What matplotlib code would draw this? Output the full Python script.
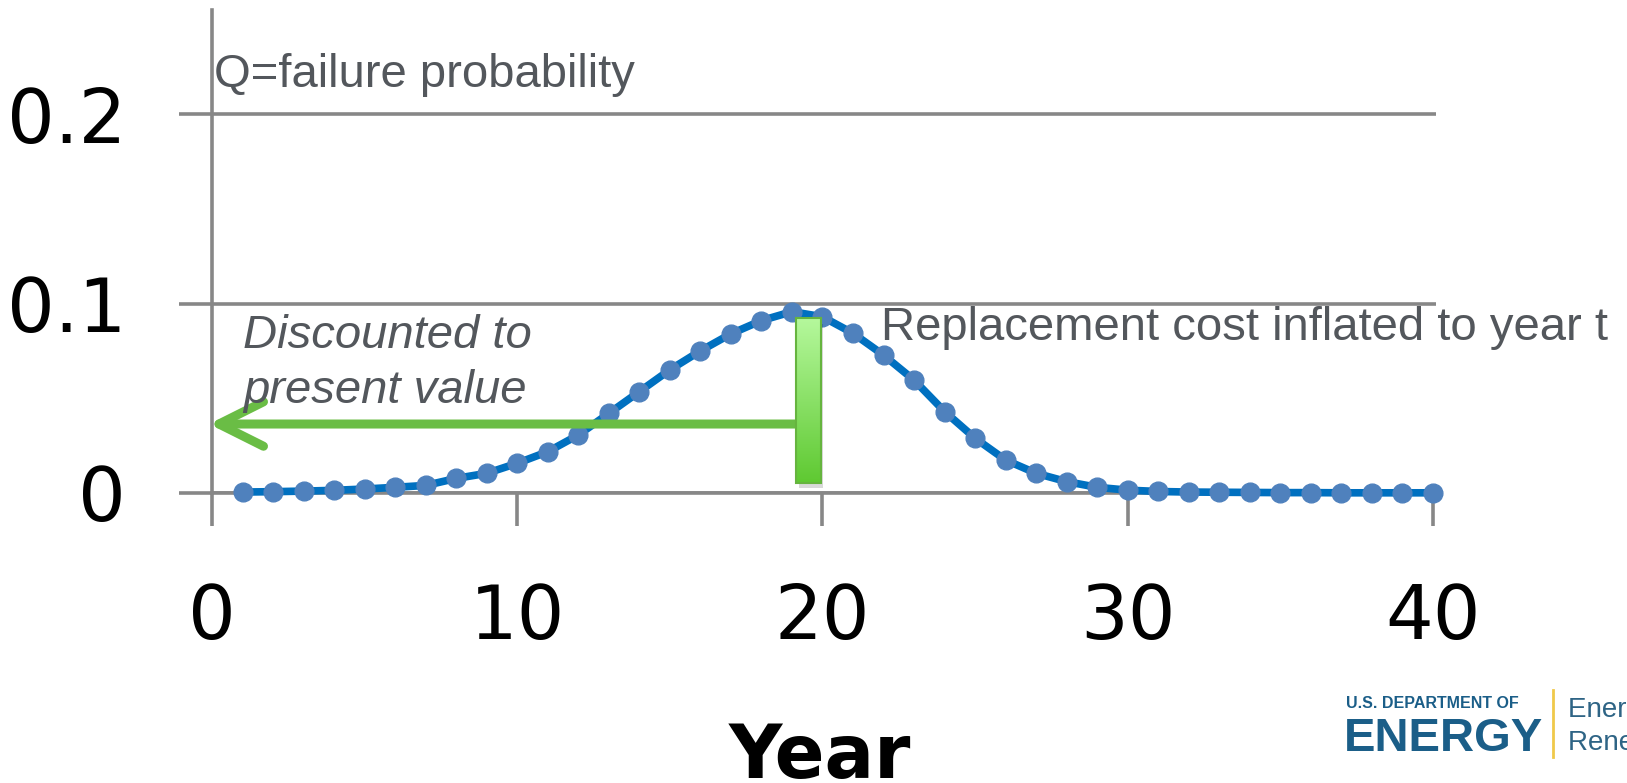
import numpy as np
import matplotlib
matplotlib.use('Agg')
import matplotlib.pyplot as plt
from matplotlib.colors import LinearSegmentedColormap
from matplotlib.lines import Line2D
import matplotlib.transforms as mtransforms

# probabilidade de falha por ano
anos = list(range(1, 41))
prob_falha = [0.0005, 0.0007, 0.001, 0.0014, 0.0021, 0.003, 0.004, 0.0077, 0.0104, 0.0157,
              0.0218, 0.0306, 0.042, 0.0535, 0.065, 0.075, 0.084, 0.091, 0.0957, 0.093,
              0.0843, 0.0728, 0.0596, 0.043, 0.0289, 0.0174, 0.0104, 0.006, 0.003, 0.0015,
              0.0008, 0.0005, 0.0004, 0.0003, 0.0002, 0.0002, 0.0001, 0.0001, 0.0001, 0.0001]

x_ticks = [0, 10, 20, 30, 40]
y_ticks = [0, 0.1, 0.2]
y_labels = ['0', '0.1', '0.2']

# barra verde (custo de reposicao no ano t) e seta de desconto
barra_x0, barra_x1 = 19.13, 19.94
barra_base, barra_topo = 0.0055, 0.0922
seta_y = 0.0364

cinza = '#878787'
texto_cor = '#53575c'
verde = '#6abd45'

fig = plt.figure(figsize=(16.27, 7.83), dpi=100)
ax = fig.add_axes([212 / 1627, 1 - 493 / 783, 1224 / 1627, 483 / 783])

ax.plot(anos, prob_falha, color='#0070c0', lw=5.5, marker='o', ms=13.5,
        mfc='#4f81bd', mec='#4f81bd', zorder=3, clip_on=False)

# sombra da barra
sombra = ax.transData + mtransforms.ScaledTranslation(2 / 72, -4 / 72, fig.dpi_scale_trans)
ax.bar((barra_x0 + barra_x1) / 2, barra_topo - barra_base, width=barra_x1 - barra_x0,
       bottom=barra_base, color='#000000', alpha=0.15, transform=sombra, zorder=4)

barra = ax.bar((barra_x0 + barra_x1) / 2, barra_topo - barra_base, width=barra_x1 - barra_x0,
               bottom=barra_base, facecolor='none', edgecolor='#66b43f', lw=1.5, zorder=6)[0]
grad = np.linspace(0, 1, 200).reshape(-1, 1)
cmap_verde = LinearSegmentedColormap.from_list('verde', ['#5fc932', '#b5f89c'])
im = ax.imshow(grad, extent=[barra_x0, barra_x1, barra_base, barra_topo], origin='lower',
               cmap=cmap_verde, aspect='auto', zorder=5)
im.set_clip_path(barra)

# seta para o valor presente
ax.annotate('', xy=(-0.1, seta_y), xytext=(barra_x0, seta_y),
            arrowprops=dict(arrowstyle='->,head_length=3.2,head_width=1.6', mutation_scale=10,
                            lw=6.5, color=verde, capstyle='round', joinstyle='round',
                            shrinkA=0, shrinkB=0),
            annotation_clip=False, zorder=4)

ax.set_xlim(0, 40.1)
ax.set_ylim(0, 0.2549)
ax.set_xticks(x_ticks)
ax.set_yticks(y_ticks)
ax.set_yticklabels(y_labels)
ax.tick_params(axis='both', length=24, width=2.6, color=cinza, labelsize=54, labelcolor='black')
ax.tick_params(axis='y', pad=38)
ax.tick_params(axis='x', pad=40)
ax.grid(axis='y', color=cinza, lw=2.6)
ax.set_axisbelow(True)
for lado in ['top', 'right']:
    ax.spines[lado].set_visible(False)
for lado in ['left', 'bottom']:
    ax.spines[lado].set_color(cinza)
    ax.spines[lado].set_linewidth(2.6)

# textos
fonte = 'Liberation Sans'
fig.text(214 / 1627, 1 - 87 / 783, 'Q=failure probability', fontsize=34, family=fonte,
         color=texto_cor, va='baseline')
fig.text(881 / 1627, 1 - 340 / 783, 'Replacement cost inflated to year t', fontsize=34,
         family=fonte, color=texto_cor, va='baseline')
fig.text(243 / 1627, 1 - 348 / 783, 'Discounted to', fontsize=34, family=fonte,
         style='italic', color=texto_cor, va='baseline')
fig.text(243 / 1627, 1 - 403 / 783, 'present value', fontsize=34, family=fonte,
         style='italic', color=texto_cor, va='baseline')
fig.text(820 / 1627, 1 - 778 / 783, 'Year', fontsize=53, fontweight='bold', ha='center',
         va='baseline')

# logotipo
azul = '#1b5e88'
fig.text(1346 / 1627, 1 - 708 / 783, 'U.S. DEPARTMENT OF', fontsize=11.5, fontweight='bold',
         family=fonte, color=azul, va='baseline')
fig.text(1344 / 1627, 1 - 751 / 783, 'ENERGY', fontsize=34, fontweight='bold',
         family=fonte, color=azul, va='baseline')
fig.add_artist(Line2D([1553 / 1627, 1553 / 1627], [1 - 690 / 783, 1 - 757 / 783],
                      transform=fig.transFigure, color='#f0c94a', lw=2))
fig.text(1568 / 1627, 1 - 717 / 783, 'Energy Efficiency &', fontsize=20, family=fonte,
         color='#2e6485', va='baseline')
fig.text(1568 / 1627, 1 - 750 / 783, 'Renewable Energy', fontsize=20, family=fonte,
         color='#2e6485', va='baseline')

fig.savefig('out.png', dpi=100, facecolor='white')
